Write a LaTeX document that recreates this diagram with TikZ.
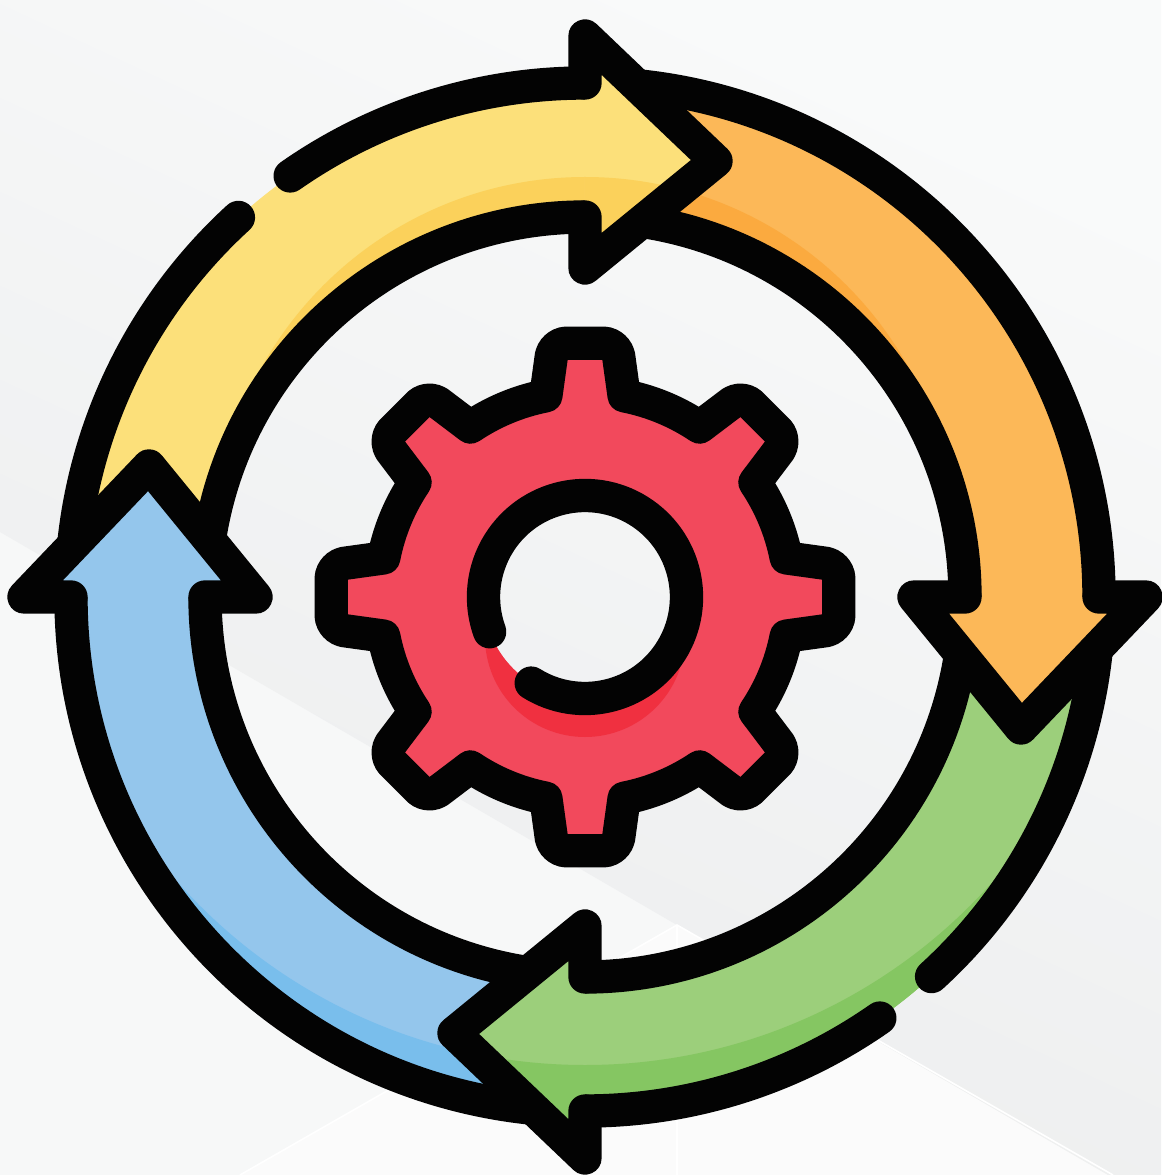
\documentclass[tikz,border=0pt]{standalone}
\usepackage{tikz}
\definecolor{ink}{HTML}{030303}
\definecolor{yel}{HTML}{FCE07A}\definecolor{yelS}{HTML}{FBD15B}
\definecolor{ora}{HTML}{FCB858}\definecolor{oraS}{HTML}{FBAA3F}
\definecolor{gre}{HTML}{9CCF7B}\definecolor{greS}{HTML}{85C662}
\definecolor{blu}{HTML}{94C6EC}\definecolor{bluS}{HTML}{79BEEC}
\definecolor{red1}{HTML}{F2495C}\definecolor{redS}{HTML}{F03040}
\definecolor{bgA}{HTML}{F9FAFA}\definecolor{bgB}{HTML}{EBECED}
\definecolor{bgC}{HTML}{F7F8F8}\definecolor{bgD}{HTML}{FBFBFB}
\tikzset{
  outline/.style={draw=ink,line width=25pt,line join=round,line cap=round},
  seam/.style={draw=white,line width=1.2pt},
}
\newcommand{\shaftfill}[3]{%
  \fill[#2] (#1:514) arc[start angle=#1,end angle=#1+85,radius=514]
     -- ({#1+85}:380) arc[start angle=#1+85,end angle=#1,radius=380] -- cycle;
  \begin{scope}
    \clip (#1:514) arc[start angle=#1,end angle=#1+85,radius=514]
     -- ({#1+85}:380) arc[start angle=#1+85,end angle=#1,radius=380] -- cycle;
    #3
  \end{scope}}
\newcommand{\headpath}[1]{%
  ([rotate=#1-90]0,514) -- ([rotate=#1-90]0,561) -- ([rotate=#1-90]131,436)
  -- ([rotate=#1-90]0,329) -- ([rotate=#1-90]0,380)}
\newcommand{\headfill}[3]{%
  \fill[#2] \headpath{#1} -- cycle;
  \begin{scope}
    \clip \headpath{#1} -- cycle;
    #3
  \end{scope}}
\newcommand{\shadetop}[1]{\begin{scope}\clip (-600,100) rectangle (600,600);\fill[#1] (0,50) circle[radius=370];\end{scope}}
\newcommand{\shadelow}[1]{\begin{scope}\clip (-600,-600) rectangle (600,-100);\fill[#1,even odd rule] (-700,-700) rectangle (700,700) (0,77) circle[radius=545];\end{scope}}
\begin{document}
\begin{tikzpicture}[x=.75pt,y=.75pt]
\useasboundingbox (-585,-578) rectangle (576,597);
% background
\fill[bgC] (-585,-578) rectangle (576,597);
\shade[top color=bgA,bottom color=bgB,shading angle=-25]
  (-585,597) -- (576,597) -- (576,-609) -- (-585,65) -- cycle;
\fill[bgD] (92,-328) -- (576,-609) -- (576,-578) -- (-345,-578) -- cycle;
\draw[seam] (-345,-578) -- (92,-328) -- (528,-578);
\draw[seam] (92,-328) -- (92,-578);
% shafts
\shaftfill{90}{yel}{\shadetop{yelS}}
\shaftfill{0}{ora}{\shadetop{oraS}}
\shaftfill{-90}{gre}{\shadelow{greS}}
\shaftfill{180}{blu}{\shadelow{bluS}}
% outlines of shafts
\foreach \a in {90,-90}{
  \draw[outline] (\a:514) arc[start angle=\a,end angle=\a+35,radius=514];
  \draw[outline] ({\a+42.4}:514) arc[start angle=\a+42.4,end angle=\a+84.5,radius=514];
  \draw[outline] (\a:380) arc[start angle=\a,end angle=\a+81.5,radius=380];
}
\foreach \a in {0,180}{
  \draw[outline] (\a:514) arc[start angle=\a,end angle=\a+84.5,radius=514];
  \draw[outline] (\a:380) arc[start angle=\a,end angle=\a+81.5,radius=380];
}
% heads
\headfill{90}{yel}{\shadetop{yelS}}
\headfill{0}{ora}{}
\headfill{-90}{gre}{\shadelow{greS}}
\headfill{180}{blu}{}
\foreach \a in {90,0,-90,180}{
  \draw[outline] \headpath{\a};
}
% gear
\fill[red1,even odd rule] (79:205)
  \foreach \t in {90,135,...,405}{
    -- ({\t-7}:256) -- ({\t+7}:256) -- ({\t+11}:205)
    arc[start angle=\t+11,end angle=\t+34,radius=205]
  } -- cycle (0,0) circle[radius=101.5];
\begin{scope}
  \clip (-700,-700) rectangle (700,700) (0,0) circle[radius=101.5];
  \fill[redS,even odd rule] (0,-40) circle[radius=100] (0,0) circle[radius=101.5];
\end{scope}
\draw[outline] (79:205)
  \foreach \t in {90,135,...,405}{
    -- ({\t-7.9}:244) .. controls ({\t-7.4}:250.6) and ({\t-5.5}:255.3) .. ({\t-4.3}:254.5)
    -- ({\t+4.3}:254.5) .. controls ({\t+5.5}:255.3) and ({\t+7.4}:250.6) .. ({\t+7.9}:244)
    -- ({\t+11}:205)
    arc[start angle=\t+11,end angle=\t+34,radius=205]
  } -- cycle;
\draw[outline] (238:101.5) arc[start angle=238,end angle=560,radius=101.5];
\end{tikzpicture}
\end{document}
